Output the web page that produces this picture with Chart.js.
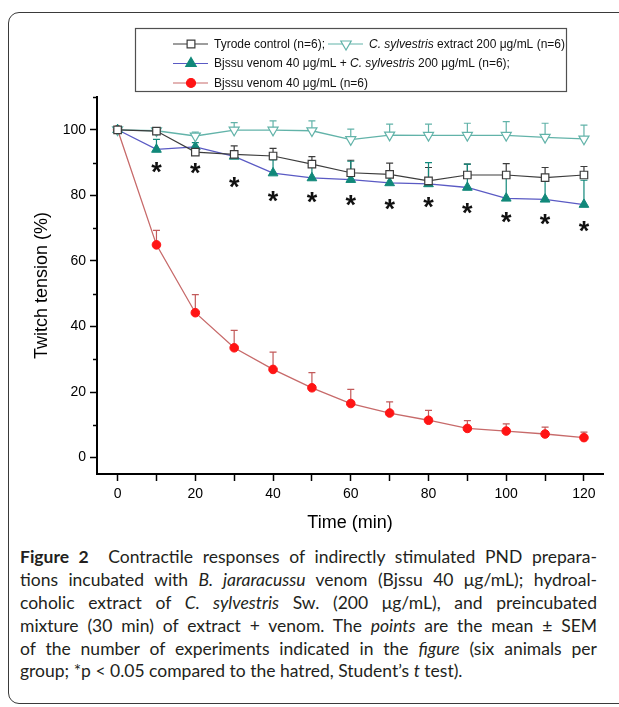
<!DOCTYPE html>
<html>
<head>
<meta charset="utf-8">
<script src="https://cdn.jsdelivr.net/npm/chart.js@4/dist/chart.umd.min.js"></script>
<style>
  html, body { margin: 0; padding: 0; background: #fff; }
  body { width: 619px; height: 707px; position: relative; overflow: hidden; }
  #frame {
    position: absolute; left: 8px; top: 12px; width: 700px; height: 692px;
    border: 1.3px solid #3a3a3a; border-radius: 11px; box-sizing: border-box;
  }
  #chart { position: absolute; left: 0; top: 0; }
  #caption {
    position: absolute; left: 20px; top: 546px; width: 577px;
    font-family: Lato, "Open Sans", sans-serif; font-size: 17.5px; color: #231f20;
  }
  #caption div { height: 22.9px; line-height: 22.9px; white-space: nowrap;
    text-align: justify; text-align-last: justify; }
  #caption div.last { text-align: left; text-align-last: left; }
</style>
</head>
<body>
<div id="frame"></div>
<canvas id="chart" width="619" height="540"></canvas>
<div id="caption">
  <div><b>Figure 2</b>&nbsp; Contractile responses of indirectly stimulated PND prepara-</div>
  <div>tions incubated with <i>B. jararacussu</i> venom (Bjssu 40 μg/mL); hydroal-</div>
  <div>coholic extract of <i>C. sylvestris</i> Sw. (200 μg/mL), and preincubated</div>
  <div>mixture (30 min) of extract + venom. The <i>points</i> are the mean ± SEM</div>
  <div>of the number of experiments indicated in the <i>figure</i> (six animals per</div>
  <div class="last">group; *p &lt; 0.05 compared to the hatred, Student’s <i>t</i> test).</div>
</div>
<script>
// Twitch tension vs time - PND preparation

// 数据
const timeMin = [0, 10, 20, 30, 40, 50, 60, 70, 80, 90, 100, 110, 120];

const tyrode     = [100, 99.6, 93.2, 92.5, 92.0, 89.5, 86.9, 86.4, 84.4, 86.2, 86.2, 85.4, 86.2];
const tyrodeSem  = [0, 0.8, 1.5, 2.6, 2.3, 2.3, 3.8, 3.4, 4.1, 3.3, 3.5, 3.1, 2.6];

const extract    = [100, 99.7, 98.1, 99.9, 99.9, 99.7, 97.0, 98.4, 98.3, 98.3, 98.3, 97.7, 97.2];
const extractSem = [0, 0.5, 1.2, 2.3, 2.8, 3.0, 3.2, 3.3, 3.4, 3.7, 4.2, 4.3, 4.2];

const venomExtract    = [100, 94.0, 94.8, 91.9, 86.8, 85.3, 84.8, 83.8, 83.5, 82.4, 79.1, 78.8, 77.2];
const venomExtractSem = [0, 3.1, 1.3, 1.6, 4.0, 3.7, 5.6, 3.6, 6.5, 7.1, 7.9, 7.2, 7.4];

const venom    = [100, 64.9, 44.2, 33.5, 26.9, 21.3, 16.5, 13.6, 11.4, 8.9, 8.1, 7.2, 6.1];
const venomSem = [0, 4.4, 5.5, 5.3, 5.3, 4.6, 4.3, 3.4, 3.0, 2.4, 2.2, 2.1, 1.7];

// 星号位置 (p < 0.05)
const starLevel = [null, 88.4, 88.1, 83.9, 79.6, 79.3, 78.5, 77.3, 77.8, 76.0, 73.2, 72.5, 70.4];

const xTickLabels = [0, 20, 40, 60, 80, 100, 120];
const yTickLabels = [0, 20, 40, 60, 80, 100];
const yMinorTicks = [10, 30, 50, 70, 90, 110];

// 颜色
const COLORS = {
    tyrode: '#3c3c3c',
    extract: '#62b3a9',
    mixLine: '#5a5ac4',
    mixMark: '#11887a',
    venomLine: '#c76a6a',
    venomMark: '#ff1414',
    venomErr: '#c25a5a'
};

const FONT = '"Liberation Sans", Arial, sans-serif';

// 工具函数
function toPoints(values) {
    return timeMin.map((t, i) => ({ x: t, y: values[i] }));
}

// 误差线
const errorBars = {
    id: 'errorBars',
    beforeDatasetsDraw(chart) {
        const { ctx, scales: { x, y } } = chart;
        chart.data.datasets.forEach(ds => {
            if (!ds.sem) return;
            ctx.save();
            ctx.strokeStyle = ds.errColor;
            ctx.lineWidth = 1.2;
            ds.sem.forEach((e, i) => {
                if (!e) return;
                const px = x.getPixelForValue(timeMin[i]);
                const y0 = y.getPixelForValue(ds.values[i]);
                const y1 = y.getPixelForValue(ds.values[i] + e);
                ctx.beginPath();
                ctx.moveTo(px, y0);
                ctx.lineTo(px, y1);
                ctx.moveTo(px - 3.5, y1);
                ctx.lineTo(px + 3.5, y1);
                ctx.stroke();
            });
            ctx.restore();
        });
    }
};

// 星号 + y轴短刻度
const stars = {
    id: 'stars',
    afterDatasetsDraw(chart) {
        const { ctx, scales: { x, y } } = chart;
        ctx.save();
        ctx.fillStyle = '#111';
        ctx.font = 'bold 27px ' + FONT;
        ctx.textAlign = 'center';
        ctx.textBaseline = 'alphabetic';
        const m = ctx.measureText('*');
        const shift = (m.actualBoundingBoxAscent - m.actualBoundingBoxDescent) / 2;
        starLevel.forEach((v, i) => {
            if (v == null) return;
            ctx.fillText('*', x.getPixelForValue(timeMin[i]), y.getPixelForValue(v) + shift);
        });

        ctx.strokeStyle = '#000';
        ctx.lineWidth = 1.5;
        yMinorTicks.forEach(v => {
            const py = Math.round(y.getPixelForValue(v)) + 0.5;
            ctx.beginPath();
            ctx.moveTo(y.right - 4, py);
            ctx.lineTo(y.right, py);
            ctx.stroke();
        });
        ctx.restore();
    }
};

// 图例 (自绘, 含斜体)
const legendBox = {
    id: 'legendBox',
    afterDraw(chart) {
        const ctx = chart.ctx;
        ctx.save();
        ctx.strokeStyle = '#505050';
        ctx.lineWidth = 1.2;
        ctx.strokeRect(135.5, 28.5, 431, 63);

        const item = (x1, yy, line, mark, parts) => {
            ctx.strokeStyle = line;
            ctx.lineWidth = 1.2;
            ctx.beginPath();
            ctx.moveTo(x1, yy);
            ctx.lineTo(x1 + 35, yy);
            ctx.stroke();
            ctx.fillStyle = mark.fill;
            ctx.strokeStyle = mark.stroke;
            ctx.lineWidth = 1.2;
            Chart.helpers.drawPoint(ctx, {
                pointStyle: mark.style, rotation: mark.rotation || 0,
                radius: mark.radius, borderWidth: 1.2
            }, x1 + 18, yy);
            let tx = x1 + 41;
            ctx.fillStyle = '#111';
            ctx.textBaseline = 'middle';
            ctx.textAlign = 'left';
            parts.forEach(p => {
                ctx.font = (p.i ? 'italic ' : '') + '12px ' + FONT;
                ctx.fillText(p.t, tx, yy + 0.5);
                tx += ctx.measureText(p.t).width;
            });
        };

        item(173, 44, COLORS.tyrode, { style: 'rect', radius: 5.5, fill: '#fff', stroke: COLORS.tyrode },
            [{ t: 'Tyrode control (n=6);' }]);
        item(328, 44, COLORS.extract, { style: 'triangle', rotation: 180, radius: 6, fill: '#fff', stroke: COLORS.extract },
            [{ t: 'C. sylvestris', i: true }, { t: ' extract 200 μg/mL (n=6)' }]);
        item(173, 63.5, COLORS.mixLine, { style: 'triangle', radius: 6, fill: COLORS.mixMark, stroke: COLORS.mixMark },
            [{ t: 'Bjssu venom 40 μg/mL + ' }, { t: 'C. sylvestris', i: true }, { t: ' 200 μg/mL (n=6);' }]);
        item(173, 83, COLORS.venomLine, { style: 'circle', radius: 4.5, fill: COLORS.venomMark, stroke: COLORS.venomMark },
            [{ t: 'Bjssu venom 40 μg/mL (n=6)' }]);
        ctx.restore();
    }
};

// 数据集
const datasets = [
    {
        label: 'Tyrode control (n=6)',
        values: tyrode, sem: tyrodeSem, errColor: COLORS.tyrode,
        data: toPoints(tyrode),
        borderColor: COLORS.tyrode, borderWidth: 1.2,
        pointStyle: 'rect', pointRadius: 5.3,
        pointBackgroundColor: '#fff', pointBorderColor: COLORS.tyrode, pointBorderWidth: 1.2
    },
    {
        label: 'C. sylvestris extract 200 μg/mL (n=6)',
        values: extract, sem: extractSem, errColor: COLORS.extract,
        data: toPoints(extract),
        borderColor: COLORS.extract, borderWidth: 1.3,
        pointStyle: 'triangle', pointRotation: 180, pointRadius: 5.8,
        pointBackgroundColor: '#fff', pointBorderColor: COLORS.extract, pointBorderWidth: 1.2
    },
    {
        label: 'Bjssu venom 40 μg/mL + C. sylvestris 200 μg/mL (n=6)',
        values: venomExtract, sem: venomExtractSem, errColor: COLORS.mixMark,
        data: toPoints(venomExtract),
        borderColor: COLORS.mixLine, borderWidth: 1.3,
        pointStyle: 'triangle', pointRadius: 5.6,
        pointBackgroundColor: COLORS.mixMark, pointBorderColor: COLORS.mixMark, pointBorderWidth: 1
    },
    {
        label: 'Bjssu venom 40 μg/mL (n=6)',
        values: venom, sem: venomSem, errColor: COLORS.venomErr,
        data: toPoints(venom),
        borderColor: COLORS.venomLine, borderWidth: 1.3,
        pointStyle: 'circle', pointRadius: 4.3,
        pointBackgroundColor: COLORS.venomMark, pointBorderColor: COLORS.venomMark, pointBorderWidth: 1
    }
];

new Chart(document.getElementById('chart'), {
    type: 'line',
    data: { datasets },
    options: {
        responsive: false,
        animation: false,
        devicePixelRatio: 1,
        layout: { padding: { left: 0, top: 97, right: 16, bottom: 0 } },
        elements: { line: { tension: 0 } },
        plugins: { legend: { display: false }, tooltip: { enabled: false } },
        scales: {
            x: {
                type: 'linear', min: -5.3, max: 124.9,
                ticks: {
                    stepSize: 10, includeBounds: false, autoSkip: false, maxRotation: 0,
                    padding: 5, color: '#000', font: { family: FONT, size: 14 },
                    callback: v => xTickLabels.includes(v) ? String(v) : ''
                },
                grid: { drawOnChartArea: false, drawTicks: true, tickLength: 7, tickWidth: 1.5, tickColor: '#000' },
                border: { display: true, color: '#000', width: 2 },
                title: { display: true, text: 'Time (min)', color: '#000',
                    font: { family: FONT, size: 18 }, padding: { top: 0, bottom: 6 } },
                afterFit(s) { s.height = 66; }
            },
            y: {
                type: 'linear', min: -5, max: 110,
                ticks: {
                    stepSize: 10, includeBounds: false, autoSkip: false,
                    padding: 4, color: '#000', font: { family: FONT, size: 14 },
                    callback: v => yTickLabels.includes(v) ? String(v) : ''
                },
                grid: {
                    drawOnChartArea: false, drawTicks: true, tickLength: 7, tickWidth: 1.5,
                    tickColor: c => (c.tick && yTickLabels.includes(c.tick.value)) ? '#000' : 'rgba(0,0,0,0)'
                },
                border: { display: true, color: '#000', width: 2 },
                title: { display: true, text: 'Twitch tension (%)', color: '#000',
                    font: { family: FONT, size: 18 }, padding: { top: 31, bottom: 0 } },
                afterFit(s) { s.width = 97; }
            }
        }
    },
    plugins: [errorBars, stars, legendBox]
});
</script>
</body>
</html>
